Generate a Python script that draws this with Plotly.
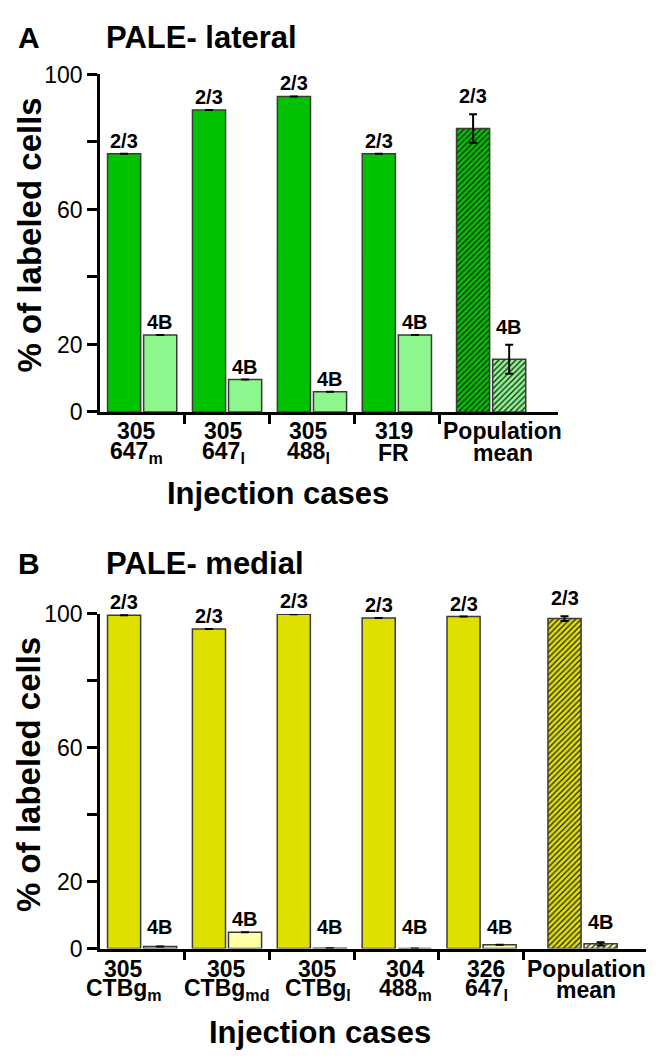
import plotly.graph_objects as go

# ---------------- data ----------------
# Panel A: PALE- lateral
a_line1 = ["305", "305", "305", "319", "Population"]
a_line2 = ["647<sub>m</sub>", "647<sub>l</sub>", "488<sub>l</sub>", "FR", "mean"]
a_l23 = [76.5, 89.5, 93.5, 76.5, 84.0]
a_l4b = [22.8, 9.6, 6.0, 22.8, 15.6]
a_err23 = [None, None, None, None, 4.2]
a_err4b = [None, None, None, None, 4.3]

# Panel B: PALE- medial
b_line1 = ["305", "305", "305", "304", "326", "Population"]
b_line2 = ["CTBg<sub>m</sub>", "CTBg<sub>md</sub>", "CTBg<sub>l</sub>", "488<sub>m</sub>", "647<sub>l</sub>", "mean"]
b_l23 = [99.6, 95.5, 99.9, 98.8, 99.2, 98.6]
b_l4b = [0.6, 4.9, 0.1, 0.0, 1.1, 1.4]
b_err23 = [None, None, None, None, None, 0.7]
b_err4b = [None, None, None, None, None, 0.5]

series_labels = ["2/3", "4B"]
y_ticks = [0, 20, 40, 60, 80, 100]
y_ticktext = ["0", "20", "", "60", "", "100"]

# ---------------- style ----------------
W, H = 658, 1063
FONT = "Liberation Sans, Arial, Helvetica, sans-serif"
GREEN, LGREEN = "#00C200", "#8CF78C"
YEL, LYEL = "#E0E000", "#FFFFA8"
OUTLINE = "#3a3a3a"
BW = 0.39
OFF = [-0.405, 0.02]


def px(v):
    return v / W


def py(v):
    return 1 - v / H


def positions(n, extra):
    xs = list(range(n - 1))
    xs.append(n - 2 + extra)
    return xs


fig = go.Figure()
annotations = []


def add_panel(xa, ya, xs, vals23, vals4b, e23, e4b, c1, c2):
    n = len(xs)
    for k, (vals, errs, col) in enumerate([(vals23, e23, c1), (vals4b, e4b, c2)]):
        shapes = [""] * (n - 1) + ["/"]
        fig.add_trace(go.Bar(
            x=xs, y=vals, xaxis=xa, yaxis=ya, width=BW, offset=OFF[k],
            marker=dict(color=col, line=dict(color=OUTLINE, width=1.5),
                        pattern=dict(shape=shapes, fgcolor="#1a1a1a", bgcolor=col,
                                     size=4, solidity=0.3, fillmode="replace")),
            error_y=dict(type="data", array=errs, visible=True, color="black",
                         thickness=2, width=4),
            showlegend=False, hoverinfo="skip"))
        for i in range(n):
            e = errs[i] or 0
            top = vals[i] + e
            annotations.append(dict(
                x=xs[i] + OFF[k] + BW / 2, y=max(top, 2.5), xref=xa, yref=ya,
                text="<b>%s</b>" % series_labels[k], showarrow=False,
                yanchor="bottom", yshift=(5 if e > 0 else 0),
                font=dict(family=FONT, size=20, color="black")))


xsA = positions(len(a_l23), 1.11)
xsB = positions(len(b_l23), 1.19)

add_panel("x", "y", xsA, a_l23, a_l4b, a_err23, a_err4b, GREEN, LGREEN)
add_panel("x2", "y2", xsB, b_l23, b_l4b, b_err23, b_err4b, YEL, LYEL)

# category labels (two lines each)
a_dx = [-5, -3, -3, -3, 12]
b_dx = [-18, 0, 6, 9, 5, 4]
for i, x in enumerate(xsA):
    annotations.append(dict(x=x, y=py(428.5), xref="x", yref="paper", text="<b>%s</b>" % a_line1[i],
                            showarrow=False, yanchor="middle", xshift=a_dx[i],
                            font=dict(family=FONT, size=23, color="black")))
    annotations.append(dict(x=x, y=py(451), xref="x", yref="paper", text="<b>%s</b>" % a_line2[i],
                            showarrow=False, yanchor="middle", xshift=a_dx[i],
                            font=dict(family=FONT, size=23, color="black")))
for i, x in enumerate(xsB):
    annotations.append(dict(x=x, y=py(979.5), xref="x2", yref="paper", text="<b>%s</b>" % b_line1[i],
                            showarrow=False, yanchor="middle", xshift=b_dx[i],
                            font=dict(family=FONT, size=23, color="black")))
    annotations.append(dict(x=x, y=py(1001), xref="x2", yref="paper", text="<b>%s</b>" % b_line2[i],
                            showarrow=False, yanchor="middle", xshift=b_dx[i],
                            font=dict(family=FONT, size=23, color="black")))

# titles, panel letters, axis titles
for txt, x, y, anchor, size in [
    ("A", 16, 25, "left", 30), ("PALE- lateral", 104, 25, "left", 31),
    ("B", 16, 564, "left", 30), ("PALE- medial", 104, 564, "left", 31),
    ("Injection cases", 278, 493, "center", 31), ("Injection cases", 320, 1045, "center", 31),
]:
    annotations.append(dict(x=px(x), y=py(y), xref="paper", yref="paper", text="<b>%s</b>" % txt,
                            showarrow=False, xanchor=anchor, yanchor="middle",
                            font=dict(family=FONT, size=size, color="black")))
for yc in (228, 781):
    annotations.append(dict(x=px(29), y=py(yc), xref="paper", yref="paper",
                            text="<b>% of labeled cells</b>", textangle=-90, showarrow=False,
                            xanchor="center", yanchor="middle",
                            font=dict(family=FONT, size=33, color="black")))

axis_common = dict(showline=True, linewidth=2.5, linecolor="black", showgrid=False,
                   zeroline=False, ticks="outside", tickcolor="black", tickwidth=2.5)

fig.update_layout(
    width=W, height=H, margin=dict(l=0, r=0, t=0, b=0),
    paper_bgcolor="white", plot_bgcolor="white",
    font=dict(family=FONT, color="black"),
    xaxis=dict(domain=[px(100), px(558)], range=[-0.494, xsA[-1] + 0.79], anchor="y",
               tickmode="array", tickvals=[x + 0.5 for x in range(-1, len(xsA) - 1)],
               showticklabels=False, ticklen=9, **axis_common),
    yaxis=dict(domain=[py(409), py(63)], range=[0, 100], anchor="x",
               tickmode="array", tickvals=y_ticks, ticktext=y_ticktext, ticklen=10,
               tickfont=dict(family=FONT, size=23, color="black"), **axis_common),
    xaxis2=dict(domain=[px(100), px(646)], range=[-0.494, xsB[-1] + 0.75], anchor="y2",
                tickmode="array", tickvals=[x + 0.5 for x in range(-1, len(xsB) - 1)],
                showticklabels=False, ticklen=9, **axis_common),
    yaxis2=dict(domain=[py(959), py(616)], range=[0, 100], anchor="x2",
                tickmode="array", tickvals=y_ticks, ticktext=y_ticktext, ticklen=10,
                tickfont=dict(family=FONT, size=23, color="black"), **axis_common),
    annotations=annotations,
)

fig.write_html("out.html", config={"displayModeBar": False},
               post_script="document.body.style.margin='0';document.body.style.overflow='hidden';")
